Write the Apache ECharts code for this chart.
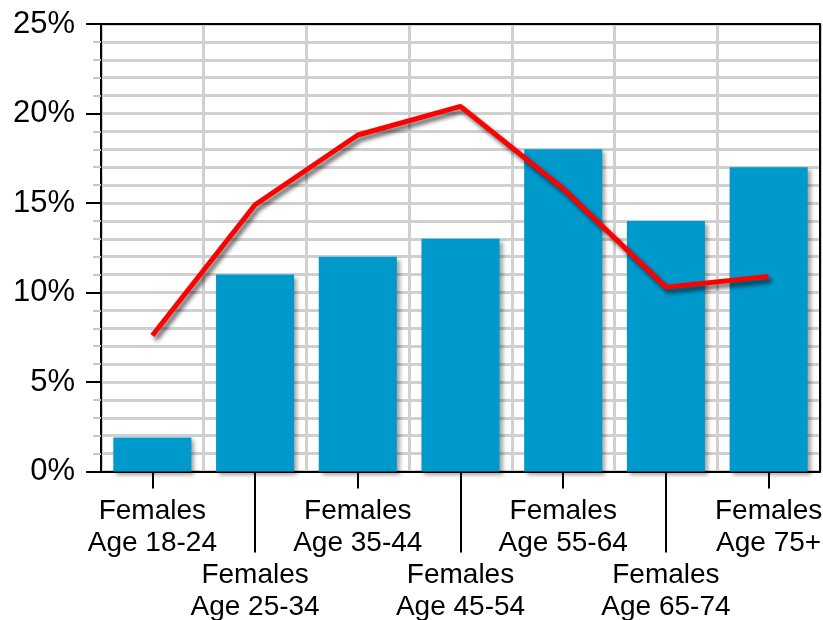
<!DOCTYPE html>
<html>
<head>
<meta charset="utf-8">
<script src="https://cdn.jsdelivr.net/npm/echarts@6/dist/echarts.min.js"></script>
<style>
html,body{margin:0;padding:0;background:#fff;}
#c{width:823px;height:620px;}
</style>
</head>
<body>
<div id="c"></div>
<script>
var categories = ['Females\nAge 18-24','Females\nAge 25-34','Females\nAge 35-44','Females\nAge 45-54','Females\nAge 55-64','Females\nAge 65-74','Females\nAge 75+'];
var barValues = [1.9, 11, 12, 13, 18, 14, 17];
var lineValues = [7.6, 14.9, 18.8, 20.4, 15.8, 10.3, 10.9];
var yTicks = [0, 5, 10, 15, 20, 25];

var chart = echarts.init(document.getElementById('c'), null, {renderer:'canvas'});
var grid = {left:101, right:3, top:24, bottom:148.5, containLabel:false, outerBoundsMode:'none'};
var xFont = {fontFamily:'"Liberation Sans",Arial,sans-serif', fontSize:28, color:'#000', lineHeight:32};
chart.setOption({
  animation:false,
  backgroundColor:'#fff',
  grid:grid,
  xAxis:[
    {type:'category', data:categories, position:'bottom',
     axisLine:{show:true, lineStyle:{color:'#000', width:2}},
     axisTick:{show:true, alignWithLabel:true, length:17, interval:function(i){return i%2===0;}, lineStyle:{color:'#000', width:2}},
     axisLabel:Object.assign({interval:0, margin:24, hideOverlap:false, formatter:function(v,i){return i%2===1 ? '\n\n'+v : v;}}, xFont),
     splitLine:{show:true, interval:0, lineStyle:{color:'#d0d0d0', width:3}}
    },
    {type:'category', data:categories, position:'bottom',
     axisLine:{show:false},
     axisTick:{show:true, alignWithLabel:true, length:81, interval:function(i){return i%2===1;}, lineStyle:{color:'#000', width:2}},
     axisLabel:{show:false}, splitLine:{show:false}
    },
    {type:'category', data:categories, position:'top', z:5,
     axisLine:{show:true, lineStyle:{color:'#000', width:2}},
     axisTick:{show:false}, axisLabel:{show:false}, splitLine:{show:false}
    }
  ],
  yAxis:[
    {type:'value', min:yTicks[0], max:yTicks[yTicks.length-1], interval:5,
     axisLine:{show:true, lineStyle:{color:'#000', width:2}},
     axisTick:{show:true, length:15, lineStyle:{color:'#000', width:2}},
     minorTick:{show:true, splitNumber:5, length:8, lineStyle:{color:'#c8c8c8', width:2}},
     axisLabel:{margin:26, formatter:'{value}%', fontFamily:'"Liberation Sans",Arial,sans-serif', fontSize:31, color:'#000'},
     splitLine:{show:true, lineStyle:{color:'#d0d0d0', width:3}},
     minorSplitLine:{show:true, lineStyle:{color:'#d0d0d0', width:3}}
    },
    {type:'value', min:yTicks[0], max:yTicks[yTicks.length-1], interval:5, position:'right', z:5,
     axisLine:{show:true, lineStyle:{color:'#000', width:2}},
     axisTick:{show:false}, axisLabel:{show:false}, splitLine:{show:false}
    }
  ],
  series:[
    {type:'bar', data:barValues, xAxisIndex:0, yAxisIndex:0, barCategoryGap:'24%',
     itemStyle:{color:'#0099cc', shadowColor:'rgba(0,0,0,0.35)', shadowBlur:4, shadowOffsetX:3, shadowOffsetY:3}
    },
    {type:'line', data:lineValues, xAxisIndex:0, yAxisIndex:0, symbol:'none', z:3,
     lineStyle:{color:'#ff0000', width:5, shadowColor:'rgba(0,0,0,0.6)', shadowBlur:4, shadowOffsetX:3, shadowOffsetY:4}
    }
  ]
});
</script>
</body>
</html>
